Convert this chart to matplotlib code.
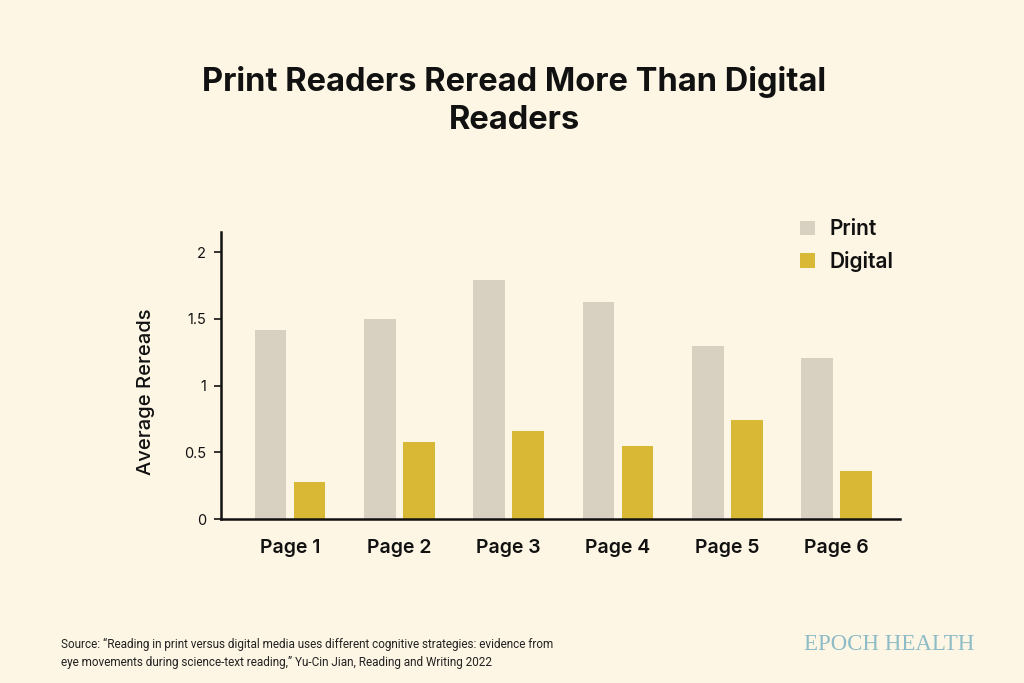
import matplotlib
matplotlib.use("Agg")
import matplotlib.pyplot as plt
import numpy as np

categories = ["Page 1", "Page 2", "Page 3", "Page 4", "Page 5", "Page 6"]
print_vals = [1.42, 1.50, 1.79, 1.63, 1.30, 1.21]
digital_vals = [0.28, 0.58, 0.66, 0.55, 0.74, 0.36]
yticks = [0, 0.5, 1, 1.5, 2]
ytick_labels = ["0", "0.5", "1", "1.5", "2"]

BG = "#FDF6E4"
C_PRINT = "#D8D0C1"
C_DIGITAL = "#D9B835"

plt.rcParams['font.family'] = ['Inter', 'DejaVu Sans']

fig = plt.figure(figsize=(10.24, 6.83), dpi=100, facecolor=BG)
ax = fig.add_axes([0.216, 0.240, 0.663, 0.420], facecolor=BG)

x = np.arange(len(categories))
w = 0.29
off = 0.178
ax.bar(x - off, print_vals, w, color=C_PRINT, label="Print")
ax.bar(x + off, digital_vals, w, color=C_DIGITAL, label="Digital")

ax.set_xlim(-0.63, 5.58)
ax.set_ylim(0, 2.15)
ax.set_yticks(yticks)
ax.set_yticklabels(ytick_labels, fontsize=10.5, color="#111111")
ax.set_xticks(x)
ax.set_xticklabels(categories, fontsize=14, fontweight="semibold", color="#111111")
ax.tick_params(axis="x", length=0, pad=14)
ax.tick_params(axis="y", length=5, width=1.2, pad=6, color="#111111")
for s in ["top", "right"]:
    ax.spines[s].set_visible(False)
for s in ["left", "bottom"]:
    ax.spines[s].set_linewidth(1.8)
    ax.spines[s].set_color("#111111")
ax.set_ylabel("Average Rereads", fontsize=14.5, fontweight="medium", color="#111111")
ax.yaxis.set_label_coords(-0.097, 0.445)

leg = ax.legend(loc="upper left", bbox_to_anchor=(0.825, 1.11), frameon=False,
                fontsize=15, handlelength=0.7, handleheight=0.7, labelspacing=0.55,
                handletextpad=0.7)
for t in leg.get_texts():
    t.set_fontweight("semibold")
    t.set_color("#111111")

fig.text(0.502, 0.852, "Print Readers Reread More Than Digital\nReaders", ha="center", va="center",
         fontsize=23.5, fontweight="bold", color="#111111", linespacing=1.3)

fig.text(0.060, 0.043, "Source: \u201cReading in print versus digital media uses different cognitive strategies: evidence from\n"
         "eye movements during science-text reading,\u201d Yu-Cin Jian, Reading and Writing 2022",
         ha="left", va="center", fontsize=8.45, color="#222222", linespacing=1.55,
         family=["Roboto", "DejaVu Sans"])

fig.text(0.868, 0.057, "EPOCH HEALTH", ha="center", va="center", fontsize=16.5,
         family=["Liberation Serif", "DejaVu Serif"], color="#8DBCC6")

fig.savefig("out.png", dpi=100, facecolor=BG)
